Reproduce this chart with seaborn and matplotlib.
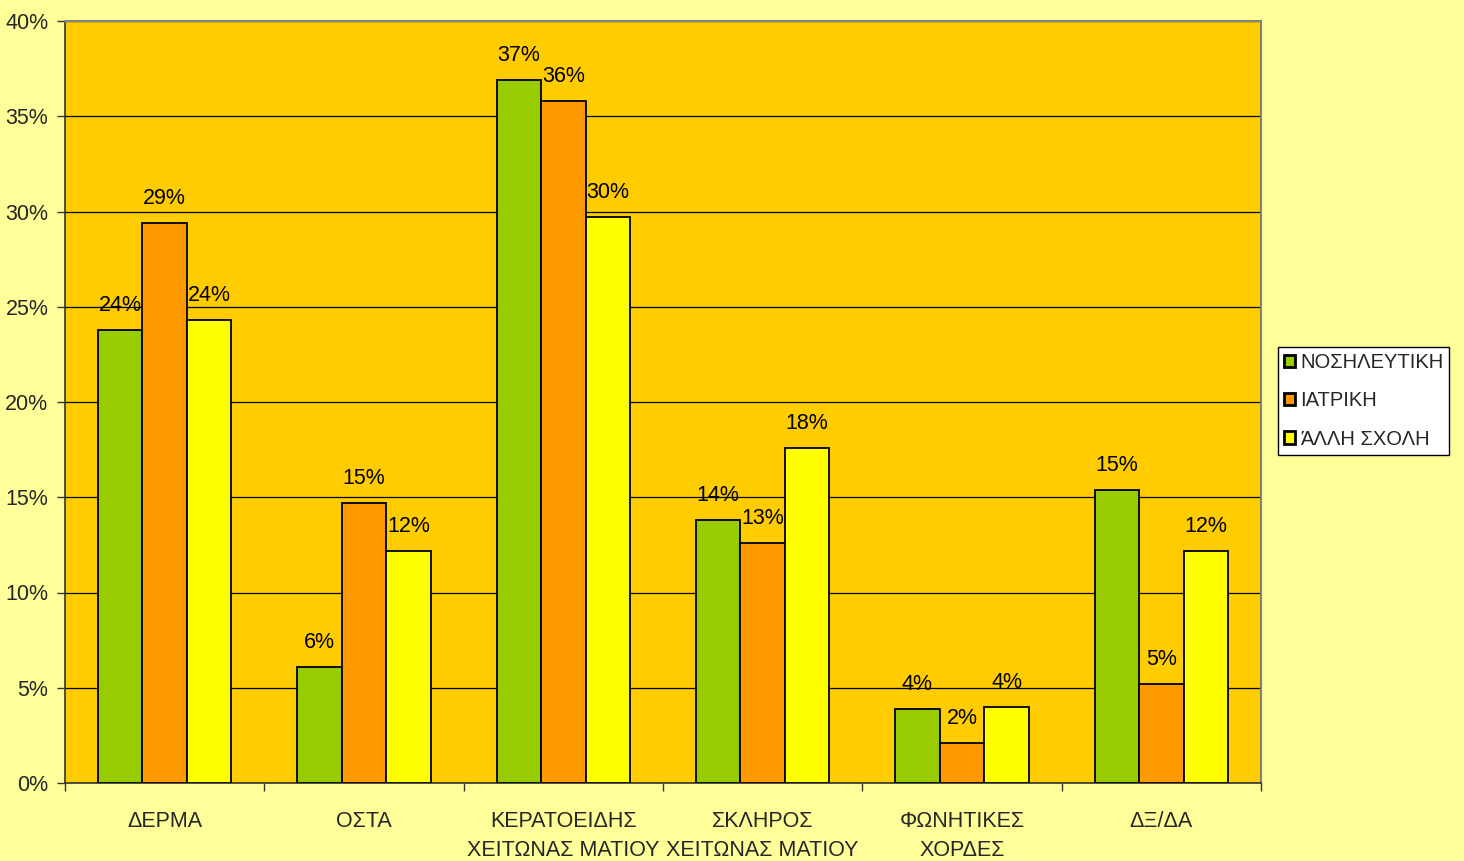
import numpy as np
import pandas as pd
import matplotlib
matplotlib.use("Agg")
import matplotlib.pyplot as plt
from matplotlib.ticker import FixedLocator, PercentFormatter
import seaborn as sns

# Categories (body tissues) and the three groups of schools
categories = ["ΔΕΡΜΑ", "ΟΣΤΑ", "ΚΕΡΑΤΟΕΙΔΗΣ\nΧΕΙΤΩΝΑΣ ΜΑΤΙΟΥ",
              "ΣΚΛΗΡΟΣ\nΧΕΙΤΩΝΑΣ ΜΑΤΙΟΥ", "ΦΩΝΗΤΙΚΕΣ\nΧΟΡΔΕΣ", "ΔΞ/ΔΑ"]
series_names = ["ΝΟΣΗΛΕΥΤΙΚΗ", "ΙΑΤΡΙΚΗ", "ΆΛΛΗ ΣΧΟΛΗ"]

# Percentages per group
nursing = [23.8, 6.1, 36.9, 13.8, 3.9, 15.4]
medicine = [29.4, 14.7, 35.8, 12.6, 2.1, 5.2]
other = [24.3, 12.2, 29.7, 17.6, 4.0, 12.2]

y_ticks = [0, 5, 10, 15, 20, 25, 30, 35, 40]

colors = ["#99CC00", "#FF9900", "#FFFF00"]

df = pd.DataFrame({
    "category": categories * 3,
    "group": np.repeat(series_names, len(categories)),
    "value": nursing + medicine + other,
})

sns.set_style("white")
plt.rcParams["font.family"] = ["Liberation Sans", "DejaVu Sans"]
fs = 15.5

fig = plt.figure(figsize=(14.64, 8.61), dpi=100, facecolor="#FFFF99")
ax = fig.add_axes([65 / 1464, 1 - 783 / 861, (1261 - 65) / 1464, (783 - 21) / 861])
ax.set_facecolor("#FFCC00")

sns.barplot(data=df, x="category", y="value", hue="group", hue_order=series_names,
            palette=colors, edgecolor="black", linewidth=1.3, width=0.67,
            saturation=1, ax=ax, zorder=3)

for cont in ax.containers:
    vals = cont.datavalues
    ax.bar_label(cont, labels=[f"{v:.0f}%" for v in vals], padding=10,
                 fontsize=fs, color="black", zorder=4)

ax.set_ylim(0, 40)
ax.set_xlim(-0.5, len(categories) - 0.5)
ax.yaxis.set_major_locator(FixedLocator(y_ticks))
ax.yaxis.set_major_formatter(PercentFormatter(decimals=0))
ax.yaxis.grid(True, color="black", linewidth=0.9, zorder=0)
ax.set_axisbelow(True)

ax.set_xlabel("")
ax.set_ylabel("")
ax.tick_params(axis="y", which="major", direction="out", length=6, width=1,
               color="#333333", labelsize=fs, pad=6, left=True)
ax.tick_params(axis="x", which="major", length=0, pad=20, labelsize=fs)
ax.xaxis.set_minor_locator(FixedLocator(np.arange(-0.5, len(categories), 1.0)))
ax.tick_params(axis="x", which="minor", direction="out", length=6, width=1,
               color="#333333", bottom=True)
for lbl in ax.get_xticklabels():
    lbl.set_linespacing(1.5)

for side in ["top", "right"]:
    ax.spines[side].set_visible(True)
    ax.spines[side].set_color("#808080")
    ax.spines[side].set_linewidth(1.5)
for side in ["left", "bottom"]:
    ax.spines[side].set_color("#333333")
    ax.spines[side].set_linewidth(1.2)

handles, labels = ax.get_legend_handles_labels()
ax.legend_.remove()
leg = fig.legend(handles, labels, loc="center left",
                 bbox_to_anchor=(1278 / 1464, 1 - 401 / 861),
                 frameon=True, fancybox=False, edgecolor="black",
                 facecolor="white", framealpha=1, fontsize=14.5,
                 handlelength=0.55, handleheight=0.55, handletextpad=0.25,
                 borderpad=0.3, borderaxespad=0, labelspacing=0.95)
leg.get_frame().set_linewidth(1.0)
for h in leg.legend_handles:
    h.set_linewidth(2)

fig.savefig("out.png", dpi=100, facecolor=fig.get_facecolor())
